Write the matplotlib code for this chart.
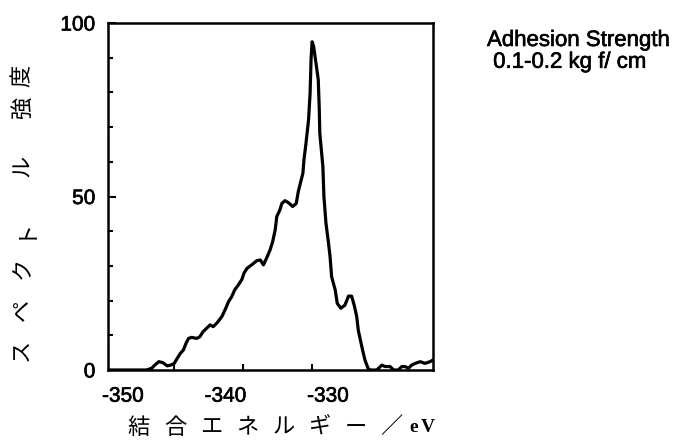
import matplotlib
matplotlib.use("Agg")
import matplotlib.pyplot as plt
import matplotlib.patheffects as pe
from matplotlib.ticker import FixedLocator, MultipleLocator

# binding energy (eV) and spectral intensity
ENERGY = [
    -351.4, -347.7, -347.2, -346.9, -346.5, -346.1, -345.7, -345.35, -345.0,
    -344.7, -344.4, -344.1, -343.85, -343.6, -343.3, -342.8, -342.5, -342.2,
    -341.85, -341.5, -341.2, -340.85, -340.35, -340.05, -339.7, -339.4,
    -339.1, -338.75, -338.4, -338.2, -337.9, -337.45, -336.95, -336.6,
    -336.3, -336.0, -335.65, -335.4, -335.15, -335.0, -334.7, -334.5,
    -334.2, -333.85, -333.45, -333.1, -332.9, -332.7, -332.45, -332.35,
    -332.15, -331.9, -331.75, -331.65, -331.55, -331.4, -331.15, -330.95,
    -330.85, -330.8, -330.5, -330.4, -330.2, -329.95, -329.8, -329.65,
    -329.3, -329.1, -328.75, -328.35, -328.0, -327.7, -327.45, -327.2,
    -327.05, -326.7, -326.4, -326.1, -325.9, -325.25, -324.75, -324.45,
    -323.95, -323.6, -323.15, -322.8, -322.5, -322.15, -321.85, -321.5,
    -321.0, -320.55, -320.05, -319.75,
]
INTENSITY = [
    0, 0, 0.5, 1.4, 2.4, 2.1, 1.2, 1.4, 1.9,
    3.4, 4.8, 5.8, 7.7, 9.1, 9.4, 9.1, 9.6, 11.0,
    12.0, 13.0, 12.5, 13.5, 15.4, 17.3, 19.7, 21.1,
    23.1, 24.5, 26.1, 27.9, 29.3, 30.3, 31.5, 31.7,
    30.3, 32.2, 34.6, 37.0, 40.4, 44.2, 46.1, 48.0,
    48.8, 48.2, 47.1, 48.0, 51.4, 53.8, 56.7, 60.5,
    65.3, 72.0, 79.7, 89.8, 94.6, 93.2, 87.9, 83.6,
    74.9, 68.2, 58.6, 50.0, 42.3, 36.5, 32.7, 26.9,
    23.1, 19.2, 17.8, 18.7, 21.3, 21.3, 18.7, 15.4,
    11.5, 6.7, 2.9, 0.5, 0, 0, 1.4, 1.0,
    1.0, 0, 0, 1.0, 1.0, 0.5, 1.4, 1.9,
    2.4, 1.9, 2.4, 2.9,
]

X_TICKS = [-350, -340, -330]
X_TICK_LABELS = ["-350", "-340", "-330"]
X_TICK_MARKS = [-345.0, -338.3, -331.6]  # marks on the scan sit apart from the labels
Y_TICKS = [0, 50, 100]

XLABEL_CHARS = ["結", "合", "エ", "ネ", "ル", "ギ", "ー", "／"]
XLABEL_UNIT = ["e", "V"]
YLABEL_CHARS = ["ス", "ペ", "ク", "ト", "ル", "強", "度"]
NOTE = "Adhesion Strength\n 0.1-0.2 kg f/ cm"

SANS = "Liberation Sans"
CJK = ["Noto Sans CJK JP", "DejaVu Sans"]
# slight outline to mimic the heavy, scanned print
INK = [pe.withStroke(linewidth=0.45, foreground="black")]

fig = plt.figure(figsize=(6.91, 4.46), dpi=100)
ax = fig.add_axes([108 / 691, 76 / 446, 325 / 691, 347 / 446])

ax.plot(ENERGY, INTENSITY, color="black", linewidth=2.3, solid_joinstyle="round")

ax.set_xlim(-351.46, -319.76)
ax.set_ylim(0, 100)

for s in ax.spines.values():
    s.set_linewidth(1.8)

ax.xaxis.set_major_locator(FixedLocator(X_TICKS))
ax.set_xticklabels(X_TICK_LABELS)
ax.xaxis.set_minor_locator(FixedLocator(X_TICK_MARKS))
ax.yaxis.set_major_locator(FixedLocator(Y_TICKS))
ax.yaxis.set_minor_locator(MultipleLocator(10))

ax.tick_params(axis="x", which="major", length=0, pad=12, labelsize=15)
ax.tick_params(axis="x", which="minor", direction="in", length=4, width=1.5)
ax.tick_params(axis="y", which="major", direction="in", length=6, width=1.5,
               pad=9, labelsize=15)
ax.tick_params(axis="y", which="minor", direction="in", length=3.5, width=1.5)
for lab in ax.get_xticklabels() + ax.get_yticklabels():
    lab.set_family(SANS)
    lab.set_path_effects(INK)

# x label, spaced out character by character
for i, ch in enumerate(XLABEL_CHARS):
    fig.text((139 + i * 36.1) / 691, 1 - 427 / 446, ch, family=CJK,
             fontsize=16, ha="center", va="center")
for i, ch in enumerate(XLABEL_UNIT):
    fig.text((414 + i * 14) / 691, 1 - 428 / 446, ch, family="Liberation Serif",
             fontweight="bold", fontsize=14, ha="center", va="center")

# y label, rotated, bottom to top
ylab_y = [350, 310, 268, 228, 166, 108, 76]
for ch, yy in zip(YLABEL_CHARS, ylab_y):
    fig.text(22 / 691, 1 - yy / 446, ch, family=CJK, fontsize=16,
             rotation=90, ha="center", va="center")

fig.text(487 / 691, 1 - 30 / 446, NOTE, family=SANS, fontsize=16,
         ha="left", va="top", linespacing=1.05, path_effects=INK)

fig.savefig("out.png", dpi=100)
